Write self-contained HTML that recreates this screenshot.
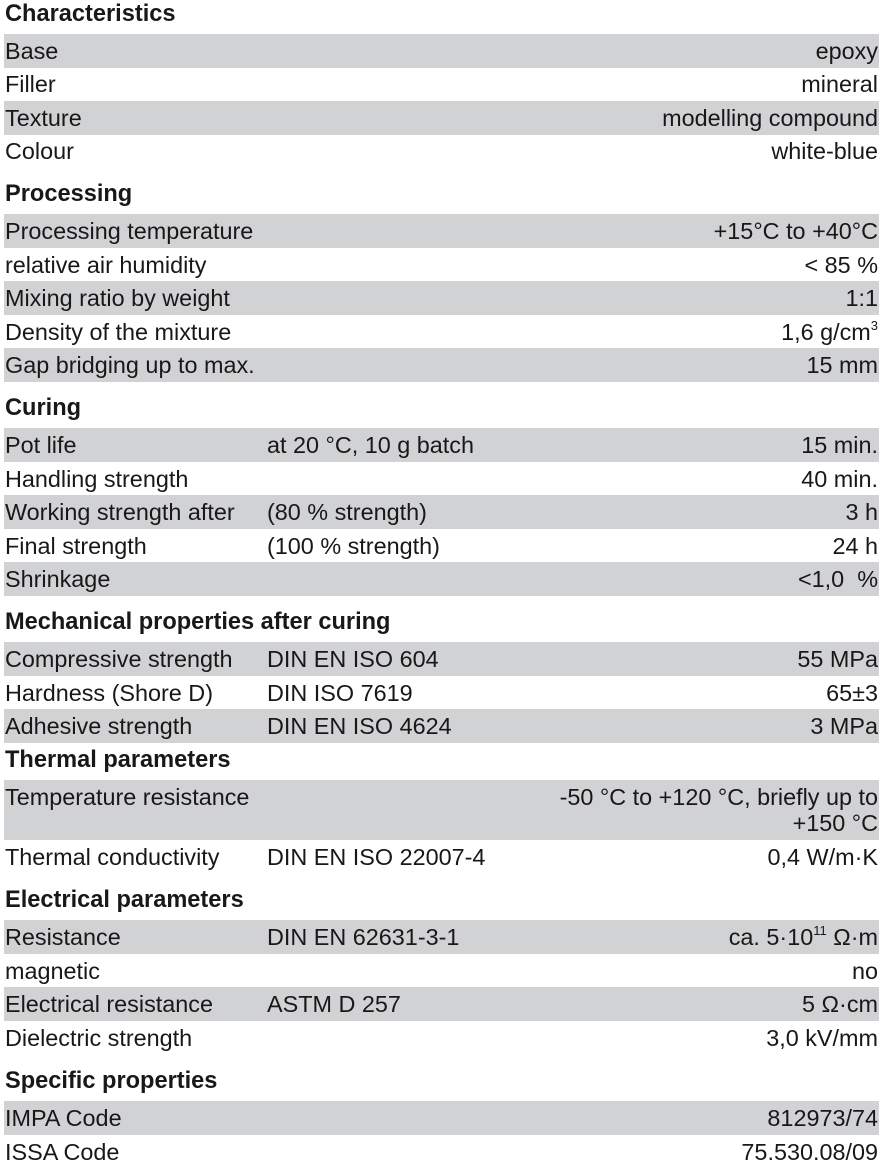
<!DOCTYPE html>
<html><head><meta charset="utf-8"><style>
body{margin:0;width:883px;height:1163px;background:#fff;position:relative;overflow:hidden;font-family:"Liberation Sans",Arial,sans-serif;color:#1a1718;font-size:23.4px}
.r{position:absolute;left:4px;width:875px;height:34px;line-height:34px}
.g{background:#d1d2d4}
.h{position:absolute;left:5px;font-weight:bold;line-height:28px;height:28px;font-size:23.6px}
.a{position:absolute;left:1px;white-space:nowrap}
.b{position:absolute;left:263px;white-space:nowrap}
.c{position:absolute;right:1px;white-space:nowrap;text-align:right}
sup{font-size:13px;vertical-align:top;line-height:22px}
</style></head><body>
<div class="h" style="top:0">Characteristics</div>
<div class="r g" style="top:34px"><span class="a">Base</span><span class="c">epoxy</span></div>
<div class="r" style="top:67px"><span class="a">Filler</span><span class="c">mineral</span></div>
<div class="r g" style="top:101px"><span class="a">Texture</span><span class="c">modelling compound</span></div>
<div class="r" style="top:134px"><span class="a">Colour</span><span class="c">white-blue</span></div>

<div class="h" style="top:180px">Processing</div>
<div class="r g" style="top:214px"><span class="a">Processing temperature</span><span class="c">+15°C to +40°C</span></div>
<div class="r" style="top:248px"><span class="a">relative air humidity</span><span class="c">&lt; 85 %</span></div>
<div class="r g" style="top:281px"><span class="a">Mixing ratio by weight</span><span class="c">1:1</span></div>
<div class="r" style="top:315px"><span class="a">Density of the mixture</span><span class="c">1,6 g/cm<sup>3</sup></span></div>
<div class="r g" style="top:348px"><span class="a">Gap bridging up to max.</span><span class="c">15 mm</span></div>

<div class="h" style="top:394px">Curing</div>
<div class="r g" style="top:428px"><span class="a">Pot life</span><span class="b">at 20 °C, 10 g batch</span><span class="c">15 min.</span></div>
<div class="r" style="top:462px"><span class="a">Handling strength</span><span class="c">40 min.</span></div>
<div class="r g" style="top:495px"><span class="a">Working strength after</span><span class="b">(80 % strength)</span><span class="c">3 h</span></div>
<div class="r" style="top:529px"><span class="a">Final strength</span><span class="b">(100 % strength)</span><span class="c">24 h</span></div>
<div class="r g" style="top:562px"><span class="a">Shrinkage</span><span class="c">&lt;1,0&nbsp; %</span></div>

<div class="h" style="top:608px">Mechanical properties after curing</div>
<div class="r g" style="top:642px"><span class="a">Compressive strength</span><span class="b">DIN EN ISO 604</span><span class="c">55 MPa</span></div>
<div class="r" style="top:676px"><span class="a">Hardness (Shore D)</span><span class="b">DIN ISO 7619</span><span class="c">65±3</span></div>
<div class="r g" style="top:709px"><span class="a">Adhesive strength</span><span class="b">DIN EN ISO 4624</span><span class="c">3 MPa</span></div>

<div class="h" style="top:746px">Thermal parameters</div>
<div class="r g" style="top:780px;height:60px;line-height:26px"><span class="a" style="top:4px">Temperature resistance</span><span class="c" style="top:4px">-50 °C to +120 °C, briefly up to<br>+150 °C</span></div>
<div class="r" style="top:840px"><span class="a">Thermal conductivity</span><span class="b">DIN EN ISO 22007-4</span><span class="c">0,4 W/m·K</span></div>

<div class="h" style="top:886px">Electrical parameters</div>
<div class="r g" style="top:920px"><span class="a">Resistance</span><span class="b">DIN EN 62631-3-1</span><span class="c">ca. 5·10<sup>11</sup> Ω·m</span></div>
<div class="r" style="top:954px"><span class="a">magnetic</span><span class="c">no</span></div>
<div class="r g" style="top:987px"><span class="a">Electrical resistance</span><span class="b">ASTM D 257</span><span class="c">5 Ω·cm</span></div>
<div class="r" style="top:1021px"><span class="a">Dielectric strength</span><span class="c">3,0 kV/mm</span></div>

<div class="h" style="top:1067px">Specific properties</div>
<div class="r g" style="top:1101px"><span class="a">IMPA Code</span><span class="c">812973/74</span></div>
<div class="r" style="top:1135px"><span class="a">ISSA Code</span><span class="c">75.530.08/09</span></div>
</body></html>
